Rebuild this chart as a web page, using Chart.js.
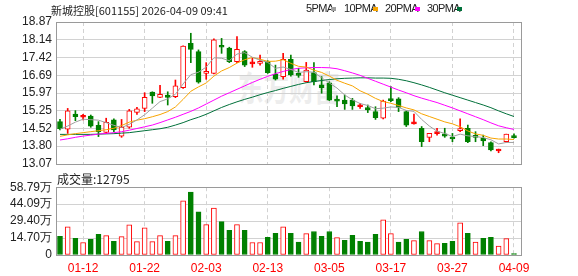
<!DOCTYPE html>
<html>
<head>
<meta charset="utf-8">
<script src="https://cdn.jsdelivr.net/npm/chart.js@4"></script>
<style>
body{margin:0;background:#fff;width:578px;height:276px;overflow:hidden;position:relative;font-family:"Liberation Sans",Arial,sans-serif}
canvas{position:absolute;left:0}
.t{position:absolute;white-space:nowrap;color:#222}
.lg{top:2px;font:11px "Liberation Sans",Arial,sans-serif;letter-spacing:-0.6px}
.sq{position:absolute;top:7px;width:5px;height:4px}
</style>
</head>
<body>
<div class="t" style="left:238px;top:62px;font:bold 34px 'Noto Sans CJK SC';color:#ededed;transform:scaleX(0.75);transform-origin:0 0">东方财富</div>
<canvas id="k" width="578" height="180" style="top:0"></canvas>
<canvas id="v" width="578" height="100" style="top:176px"></canvas>
<div class="t" style="left:51px;top:2px;font:11px 'Noto Sans CJK SC'">新城控股[601155] 2026-04-09 09:41</div>
<div class="t lg" style="left:306px">5PMA</div><div class="sq" style="left:331px;background:#a0a0a0"></div>
<div class="t lg" style="left:344px">10PMA</div><div class="sq" style="left:373px;background:#f7a400"></div>
<div class="t lg" style="left:385px">20PMA</div><div class="sq" style="left:415px;background:#ff00ff"></div>
<div class="t lg" style="left:427px">30PMA</div><div class="sq" style="left:457px;background:#00703a"></div>
<div class="t" style="left:57px;top:170px;font:12px 'Noto Sans CJK SC'">成交量:12795</div>
<script>
// K线数据 (01-07 .. 04-09)
const opens  = [14.80,14.49,15.11,14.98,15.03,14.65,14.36,14.87,14.21,14.57,15.18,15.34,16.01,15.79,15.89,15.82,16.19,18.00,17.66,16.77,
                16.77,17.86,17.80,17.25,17.66,17.16,17.18,17.25,16.73,16.64,17.35,16.73,16.43,16.80,16.30,16.39,15.68,15.68,15.68,15.41,
                15.37,15.21,14.94,15.71,15.73,15.21,14.71,14.53,14.16,14.31,14.30,14.12,14.43,14.53,14.21,14.12,13.94,13.60,13.98,14.19];
const highs  = [14.89,15.34,15.25,15.10,15.07,14.80,14.94,14.91,14.89,15.30,15.38,15.98,16.02,16.28,16.02,16.50,17.90,18.41,17.73,17.21,
                18.18,18.20,17.84,18.27,17.70,17.39,17.52,17.29,17.11,17.59,17.52,16.98,17.22,17.21,16.64,16.43,15.85,15.89,15.75,15.55,
                15.48,15.41,15.68,16.23,15.78,15.24,15.11,14.60,14.32,14.53,14.53,14.32,14.91,14.66,14.39,14.25,13.98,13.68,14.29,14.30];
const lows   = [14.46,14.32,14.84,14.87,14.57,14.19,14.32,14.39,14.16,14.53,15.10,15.21,15.55,15.78,15.48,15.78,16.16,17.21,16.37,16.53,
                16.75,17.59,17.21,17.21,17.05,17.02,17.11,16.77,16.50,16.53,16.66,16.61,16.41,16.30,15.96,15.66,15.41,15.30,15.30,15.34,
                15.17,14.89,14.91,15.62,15.21,14.60,14.70,13.78,13.98,14.25,14.16,13.98,14.39,13.94,13.98,13.82,13.60,13.53,13.96,14.12];
const closes = [14.51,15.24,15.00,15.03,14.62,14.39,14.77,14.46,14.57,15.24,15.32,15.79,15.85,15.92,15.79,16.26,17.89,17.75,16.41,16.84,
                18.14,17.84,17.25,17.75,17.11,17.21,17.25,16.80,16.53,17.35,16.71,16.69,16.91,16.43,16.19,15.68,15.64,15.52,15.44,15.44,
                15.28,14.96,15.64,15.66,15.38,14.66,14.74,13.98,14.32,14.35,14.21,14.09,14.49,13.98,14.16,14.01,13.64,13.64,14.29,14.15];

// 均线
const ma5  = [14.49,14.62,14.78,14.90,14.88,14.86,14.76,14.65,14.56,14.69,14.87,15.08,15.35,15.62,15.73,15.92,16.34,16.72,16.82,17.03,
              17.41,17.39,17.29,17.56,17.62,17.43,17.31,17.22,16.98,17.03,16.93,16.81,16.84,16.82,16.59,16.38,16.17,15.89,15.69,15.54,
              15.46,15.33,15.35,15.40,15.38,15.26,15.22,14.89,14.62,14.41,14.32,14.19,14.29,14.22,14.19,14.15,14.06,13.89,13.95,13.95];
const ma10 = [14.20,14.26,14.31,14.35,14.39,14.43,14.47,14.53,14.64,14.78,14.86,14.92,15.00,15.09,15.21,15.40,15.71,16.04,16.22,16.38,
              16.66,16.87,17.01,17.19,17.33,17.42,17.35,17.26,17.27,17.33,17.18,17.06,17.03,16.90,16.81,16.66,16.49,16.37,16.26,16.06,
              15.92,15.75,15.62,15.55,15.46,15.36,15.28,15.12,15.01,14.90,14.79,14.71,14.59,14.42,14.30,14.24,14.13,14.09,14.09,14.07];
const ma20 = [14.05,14.10,14.16,14.21,14.25,14.29,14.32,14.35,14.39,14.45,14.52,14.59,14.66,14.76,14.87,14.98,15.10,15.22,15.36,15.52,
              15.68,15.84,15.98,16.12,16.26,16.40,16.53,16.65,16.76,16.85,16.93,16.98,17.00,17.01,17.01,17.00,16.96,16.88,16.79,16.69,
              16.57,16.45,16.33,16.21,16.09,15.98,15.86,15.76,15.67,15.58,15.47,15.36,15.24,15.12,15.00,14.88,14.75,14.63,14.55,14.48];
const ma30 = [14.28,14.28,14.28,14.28,14.28,14.29,14.30,14.31,14.33,14.35,14.39,14.43,14.47,14.51,14.57,14.66,14.76,14.88,14.98,15.10,
              15.24,15.38,15.50,15.61,15.71,15.80,15.90,15.99,16.07,16.16,16.24,16.32,16.39,16.44,16.48,16.52,16.55,16.57,16.58,16.59,
              16.59,16.58,16.58,16.57,16.53,16.47,16.39,16.30,16.20,16.09,15.98,15.88,15.78,15.68,15.58,15.48,15.37,15.24,15.12,15.01];

// 成交量 (万手) 和颜色 (1 = 红)
const volumes = [16.2,24.4,14.5,10.8,13.6,17.9,16.8,11.9,15.9,26.1,11.6,23.6,11.6,16.8,11.9,16.8,46.9,54.5,37.5,26.4,
                 40.6,29.0,21.3,26.4,21.3,10.8,10.8,15.3,18.7,24.4,18.7,11.1,18.5,20.4,16.2,20.4,15.1,12.8,17.0,11.9,
                 11.1,17.9,30.4,18.5,11.1,13.6,12.5,20.4,12.5,9.9,10.2,11.9,27.8,18.7,11.1,14.5,15.3,7.7,14.2,1.28];
const volUp   = [0,1,0,1,0,0,1,0,1,1,1,1,1,1,0,1,1,0,0,1,
                 1,0,0,1,0,1,1,0,0,1,0,0,1,0,0,0,1,0,0,0,
                 0,0,1,1,0,0,1,0,1,1,0,0,1,0,1,0,0,1,1,0];

// 坐标轴
const tickIdx = [3,11,19,27,35,43,51,59];
const dateLabels = ['01-12','01-22','02-03','02-13','03-05','03-17','03-27','04-09'];
const priceLabels = ['13.07','13.80','14.52','15.25','15.97','16.69','17.42','18.14','18.87'];
const volLabels = ['0','14.70万','29.40万','44.09万','58.79万'];

const RED = '#ff0000', GREEN = '#008000', GRID = '#d2d2d2';

const frame = {
  id: 'frame',
  afterDraw(c) {
    const a = c.chartArea, ctx = c.ctx;
    ctx.save();
    ctx.strokeStyle = '#9a9a9a';
    ctx.lineWidth = 1;
    ctx.strokeRect(Math.round(a.left) + 0.5, Math.round(a.top) + 0.5, Math.round(a.right - a.left) - 1, Math.round(a.bottom - a.top));
    ctx.restore();
  }
};

const xScale = (showLabels) => ({
  type: 'linear', min: -0.52, max: 60.04, offset: false,
  afterBuildTicks: s => { s.ticks = tickIdx.map(v => ({ value: v })); },
  ticks: { display: showLabels, autoSkip: false, maxRotation: 0, padding: 6, color: RED,
           font: { size: 12, family: 'Liberation Sans' }, callback: (v, i) => dateLabels[i] },
  grid: { color: GRID, drawTicks: false, offset: false },
  border: { display: false, dash: [4, 3] },
  afterFit: s => { s.height = showLabels ? 21 : 0; }
});

const yTicks = (labels) => ({
  autoSkip: false, color: '#222', padding: 4,
  font: { size: 12, family: 'Liberation Sans' }, callback: (v, i) => labels[i]
});

const candleColor = closes.map((c, i) => c >= opens[i] ? RED : GREEN);
const bodyFill = closes.map((c, i) => c < opens[i] ? GREEN : (c - opens[i] < 0.06 ? RED : '#fff'));
const line = (vals, color) => ({
  type: 'line', data: vals.map((v, i) => ({ x: i, y: v })), borderColor: color,
  borderWidth: 1, pointRadius: 0, tension: 0, order: 0
});

new Chart(document.getElementById('k'), {
  type: 'bar',
  data: {
    datasets: [
      line(ma5, '#a0a0a0'), line(ma10, '#f7a400'), line(ma20, '#ff00ff'), line(ma30, '#00703a'),
      { data: closes.map((c, i) => ({ x: i, y: [opens[i], c] })), backgroundColor: bodyFill, borderColor: candleColor,
        borderWidth: 1, borderSkipped: false, barThickness: 5, minBarLength: 2, grouped: false, order: 1 },
      { data: closes.map((c, i) => ({ x: i, y: [lows[i], highs[i]] })), backgroundColor: candleColor,
        barThickness: 1, grouped: false, order: 2 }
    ]
  },
  options: {
    responsive: false, animation: false,
    layout: { padding: { top: 22, right: 56, bottom: 16, left: 0 } },
    plugins: { legend: { display: false }, tooltip: { enabled: false } },
    scales: {
      x: xScale(false),
      y: {
        min: 13.07, max: 18.87,
        afterBuildTicks: s => { s.ticks = priceLabels.map(l => ({ value: Number(l) })); },
        ticks: yTicks(priceLabels),
        grid: { color: GRID, drawTicks: false },
        border: { display: false },
        afterFit: s => { s.width = 56; }
      }
    }
  },
  plugins: [frame]
});

new Chart(document.getElementById('v'), {
  type: 'bar',
  data: {
    datasets: [{
      data: volumes.map((v, i) => ({ x: i, y: v })),
      backgroundColor: volUp.map(u => u ? '#fff' : GREEN),
      borderColor: volUp.map(u => u ? RED : GREEN),
      borderWidth: 1, borderSkipped: false, barThickness: 5, grouped: false
    }]
  },
  options: {
    responsive: false, animation: false,
    layout: { padding: { top: 10, right: 56, bottom: 0, left: 0 } },
    plugins: { legend: { display: false }, tooltip: { enabled: false } },
    scales: {
      x: xScale(true),
      y: {
        min: 0, max: 58.79,
        afterBuildTicks: s => { s.ticks = volLabels.map(l => ({ value: parseFloat(l) })); },
        ticks: yTicks(volLabels),
        grid: { color: GRID, drawTicks: false },
        border: { display: false },
        afterFit: s => { s.width = 56; }
      }
    }
  },
  plugins: [frame]
});
</script>
</body>
</html>
